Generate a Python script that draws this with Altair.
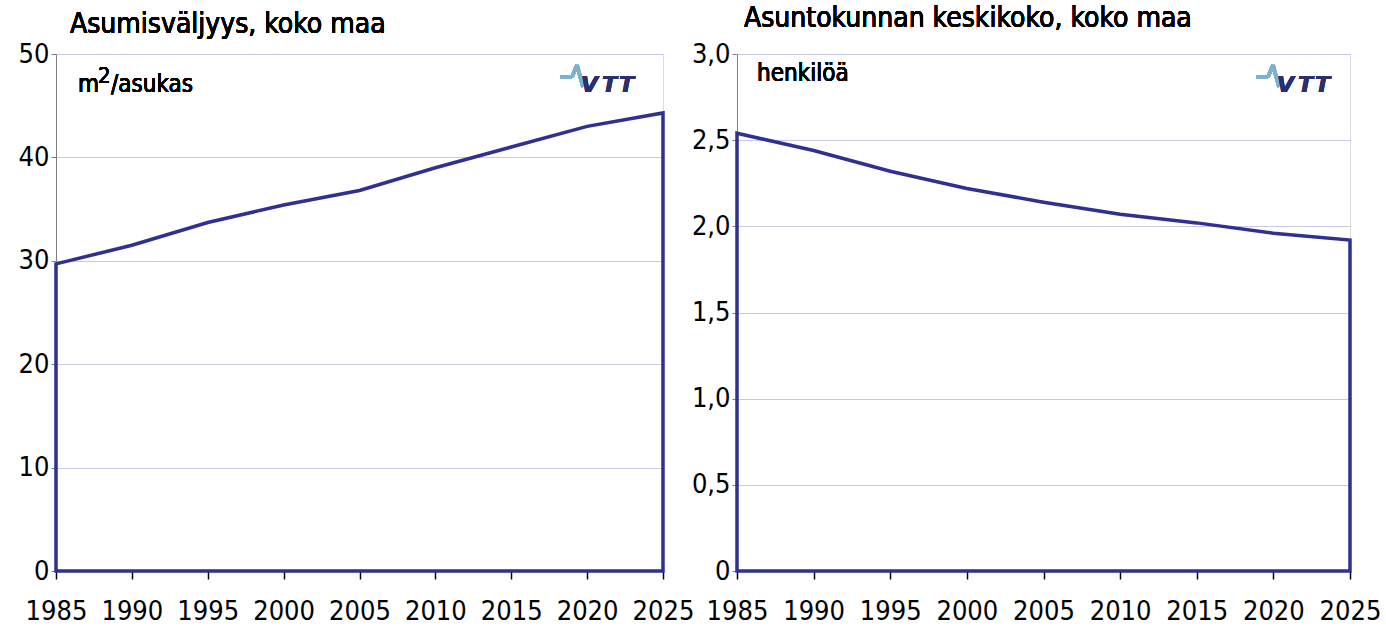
import altair as alt
import pandas as pd

years = [1985, 1990, 1995, 2000, 2005, 2010, 2015, 2020, 2025]
space_per_person = [29.7, 31.5, 33.7, 35.4, 36.8, 39.0, 41.0, 43.0, 44.3]
household_size = [2.54, 2.44, 2.32, 2.22, 2.14, 2.07, 2.02, 1.96, 1.92]

left_title = "Asumisväljyys, koko maa"
right_title = "Asuntokunnan keskikoko, koko maa"
left_unit_parts = ["m", "2", "/asukas"]
right_unit = "henkilöä"
left_ticks = [0, 10, 20, 30, 40, 50]
right_ticks = [0, 0.5, 1.0, 1.5, 2.0, 2.5, 3.0]

BLUE = "#2E3191"
GRID = "#C8C8E4"
FRAME = "#A0A0A0"
FONT = "DejaVu Sans Condensed, DejaVu Sans, sans-serif"

W_L, W_R, H = 607, 613, 517


def txt(base, text, x, y, size, **kw):
    return base.mark_text(
        text=text, align="left", baseline="alphabetic", font=kw.pop("font", FONT),
        fontSize=size, fontWeight=kw.pop("fontWeight", "normal"),
        color=kw.pop("color", "#000000"), **kw,
    ).encode(x=alt.value(x), y=alt.value(y))


def panel(values, ticks, ymax, label_expr, title, w, title_dx, title_dy,
          unit_marks, logo_dx, anchor):
    df = pd.DataFrame({"year": years, "value": values})
    base = alt.Chart(df)
    area = base.mark_area(
        fillOpacity=0, stroke=BLUE, strokeWidth=3.5, strokeJoin="miter"
    ).encode(
        x=alt.X(
            "year:Q",
            scale=alt.Scale(domain=[1985, 2025], nice=False, zero=False),
            axis=alt.Axis(
                values=years, format="d", title=None, grid=False, domain=False,
                tickSize=8, tickColor="#000000", tickWidth=1.5,
                labelFont=FONT, labelFontSize=27, labelColor="#000000",
                labelPadding=19, labelFlush=False, labelOverlap=False,
            ),
        ),
        y=alt.Y(
            "value:Q",
            scale=alt.Scale(domain=[0, ymax], nice=False),
            axis=alt.Axis(
                values=ticks, title=None, labelExpr=label_expr,
                gridColor=GRID, gridWidth=1,
                domainColor="#808080", tickColor="#808080", tickSize=5,
                labelFont=FONT, labelFontSize=27, labelColor="#000000",
                labelPadding=2, labelFlush=False, labelOverlap=False,
            ),
        ),
    )
    ttl = txt(base, title, title_dx, title_dy, 28)
    units = [txt(base, t, x, y, s) for (t, x, y, s) in unit_marks]
    pulse = []
    segs = [(0, 23, 12, 23), (12, 23, 17, 11), (17, 11, 23, 33)]
    for x1, y1, x2, y2 in segs:
        pulse.append(
            base.mark_rule(stroke="#7AB2D4", strokeWidth=3.5).encode(
                x=alt.value(logo_dx + x1), x2=alt.value(logo_dx + x2),
                y=alt.value(y1), y2=alt.value(y2),
            )
        )
    letters = [
        txt(base, ch, logo_dx + off, 38, 22, font="DejaVu Sans",
            fontWeight="bold", fontStyle="italic", color="#2B2F6B")
        for ch, off in [("V", 21), ("T", 42), ("T", 59)]
    ]
    layers = [area, ttl, *units, *pulse, *letters]
    if anchor:
        # invisible corner marker fixing the layout origin
        layers.append(
            base.mark_rule(stroke="#FFFFFF", strokeWidth=0.5).encode(
                x=alt.value(-55), x2=alt.value(-53), y=alt.value(-53), y2=alt.value(-53)
            )
        )
    return alt.layer(*layers).properties(width=w, height=H)


left_units = [
    (left_unit_parts[0], 22, 38, 24),
    (left_unit_parts[1], 42, 29, 22),
    (left_unit_parts[2], 55, 38, 24),
]
right_units = [(right_unit, 20, 27, 24)]

left = panel(space_per_person, left_ticks, 50, "format(datum.value, 'd')",
             left_title, W_L, 14, -21, left_units, 504, True)
right = panel(household_size, right_ticks, 3.0,
              "datum.value == 0 ? '0' : replace(format(datum.value, '.1f'), '.', ',')",
              right_title, W_R, 7, -27, right_units, 519, False)

chart = alt.hconcat(left, right, spacing=74, bounds="flush").properties(
    autosize=alt.AutoSizeParams(type="pad"),
    padding={"left": 0, "top": 0, "right": 0, "bottom": 0},
).configure_view(stroke=FRAME, strokeWidth=1.5).configure(background="#FFFFFF")

chart.save("out.html", embed_options={"renderer": "svg", "actions": False})
